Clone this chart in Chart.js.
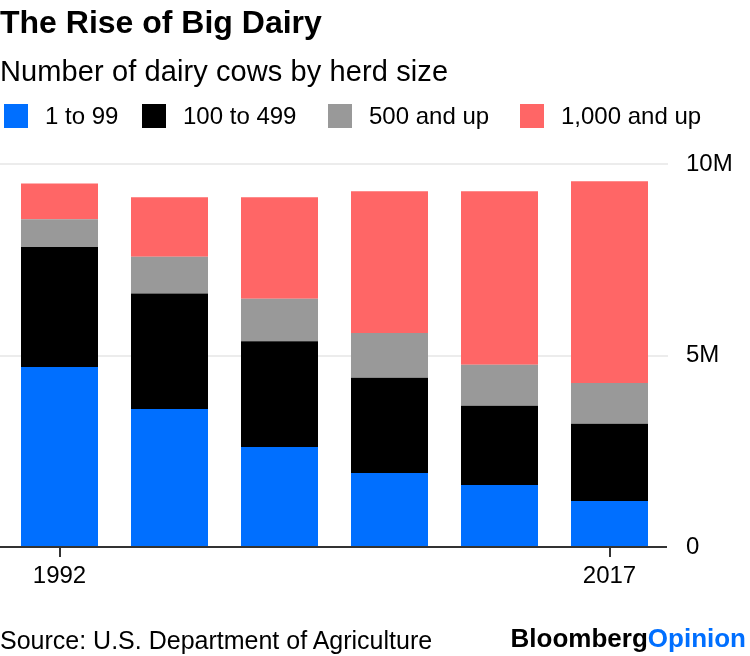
<!DOCTYPE html>
<html><head><meta charset="utf-8">
<script src="https://cdn.jsdelivr.net/npm/chart.js@4/dist/chart.umd.min.js"></script>
<style>
html,body{margin:0;padding:0;background:#fff;}
body{width:750px;height:656px;position:relative;overflow:hidden;font-family:"Liberation Sans",Arial,sans-serif;color:#000;}
canvas{position:absolute;left:0;top:0;}
.txt{position:absolute;white-space:nowrap;}
#title{left:0;top:4px;font-size:32px;font-weight:bold;line-height:36px;}
#subtitle{left:0;top:54px;font-size:29px;line-height:34px;letter-spacing:0.1px;}
#legend{left:0;top:0;width:750px;height:140px;}
.item{position:absolute;top:104px;height:24px;display:flex;align-items:center;font-size:24px;line-height:24px;}
.sw{width:24px;height:24px;margin-right:17px;}
#source{left:0;top:626px;font-size:25px;line-height:28px;}
#logo{right:4px;top:624px;font-size:26px;font-weight:bold;line-height:28px;letter-spacing:0px;}
</style>
</head><body>
<canvas id="c" width="750" height="656"></canvas>
<div class="txt" id="title">The Rise of Big Dairy</div>
<div class="txt" id="subtitle">Number of dairy cows by herd size</div>
<div class="txt" id="legend"></div>
<div class="txt" id="source">Source: U.S. Department of Agriculture</div>
<div class="txt" id="logo"><span>Bloomberg</span><span style="color:#006FFF">Opinion</span></div>
<script>
// ---- data (millions of cows) ----
const years = ['1992','1997','2002','2007','2012','2017'];
const herd1to99 = [4.70, 3.60, 2.61, 1.93, 1.62, 1.20];
const herd100to499 = [3.13, 3.02, 2.76, 2.49, 2.07, 2.02];
const herd500up = [0.73, 0.96, 1.11, 1.17, 1.07, 1.06];
const herd1000up = [0.93, 1.55, 2.65, 3.70, 4.53, 5.27];
const seriesNames = ['1 to 99', '100 to 499', '500 and up', '1,000 and up'];
const seriesColors = ['#006FFF', '#000000', '#999999', '#FF6666'];
const yTicks = [0, 5, 10];
const yTickLabels = ['0', '5M', '10M'];
const xTickLabels = ['1992', '2017'];

const FONT = '"Liberation Sans", Arial, sans-serif';

// legend (HTML), item left edges are layout only
const legendLeft = [4, 142, 328, 520];
const lg = document.getElementById('legend');
seriesNames.forEach((n, i) => {
  const it = document.createElement('div'); it.className = 'item';
  it.style.left = legendLeft[i] + 'px';
  const sw = document.createElement('div'); sw.className = 'sw'; sw.style.background = seriesColors[i];
  const t = document.createElement('span'); t.textContent = n;
  it.appendChild(sw); it.appendChild(t); lg.appendChild(it);
});

const seriesData = [herd1to99, herd100to499, herd500up, herd1000up];

const gridPlugin = {
  id: 'customGrid',
  beforeDatasetsDraw(chart) {
    const {ctx, chartArea, scales: {y}} = chart;
    ctx.save();
    ctx.strokeStyle = '#ececec'; ctx.lineWidth = 2;
    yTicks.forEach(v => {
      if (v === 0) return;
      const py = Math.round(y.getPixelForValue(v));
      ctx.beginPath(); ctx.moveTo(chartArea.left - 4.5, py); ctx.lineTo(chartArea.right + 3.5, py); ctx.stroke();
    });
    ctx.restore();
  },
  afterDatasetsDraw(chart) {
    const {ctx, chartArea, scales: {y}} = chart;
    const py = Math.round(y.getPixelForValue(0));
    ctx.save();
    ctx.strokeStyle = '#333333'; ctx.lineWidth = 2;
    ctx.beginPath(); ctx.moveTo(chartArea.left - 4.5, py); ctx.lineTo(chartArea.right + 2.5, py); ctx.stroke();
    ctx.restore();
  }
};

new Chart(document.getElementById('c'), {
  type: 'bar',
  data: {
    labels: years,
    datasets: seriesData.map((d, i) => ({
      label: seriesNames[i],
      data: d,
      backgroundColor: seriesColors[i],
      borderWidth: 0,
      barPercentage: 0.7,
      categoryPercentage: 1.0
    }))
  },
  options: {
    responsive: false,
    animation: false,
    devicePixelRatio: 1,
    layout: {padding: {left: 4.5, right: 0, top: 164, bottom: 69}},
    plugins: {legend: {display: false}, tooltip: {enabled: false}, title: {display: false}},
    scales: {
      x: {
        stacked: true,
        grid: {
          display: true, drawOnChartArea: false, drawTicks: true, tickLength: 10, offset: false,
          lineWidth: 2,
          tickColor: ctx => xTickLabels.includes(years[ctx.index]) ? '#333333' : 'rgba(0,0,0,0)',
          color: 'rgba(0,0,0,0)'
        },
        border: {display: false},
        ticks: {
          autoSkip: false, maxRotation: 0, color: '#000', padding: 5,
          font: {family: FONT, size: 24},
          callback: (v, i) => xTickLabels.includes(years[i]) ? years[i] : ''
        },
        afterFit: s => { s.height = 40; }
      },
      y: {
        stacked: true, position: 'right', min: 0, max: 10,
        grid: {display: false, drawTicks: false},
        border: {display: false},
        ticks: {
          stepSize: 5, color: '#000', padding: 21.5,
          font: {family: FONT, size: 24},
          callback: v => { const k = yTicks.indexOf(v); return k >= 0 ? yTickLabels[k] : ''; }
        },
        afterFit: s => { s.width = 85.5; }
      }
    }
  },
  plugins: [gridPlugin]
});
</script>
</body></html>
